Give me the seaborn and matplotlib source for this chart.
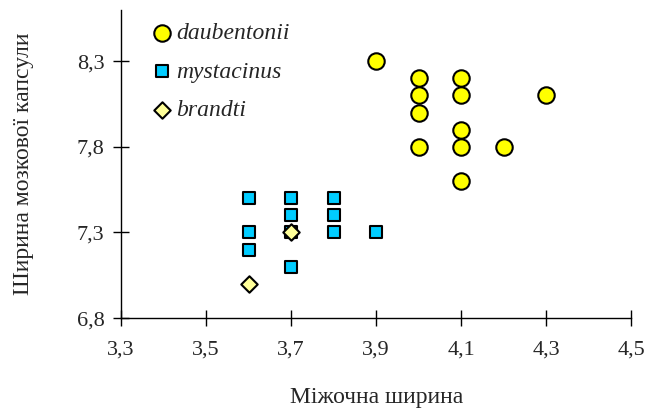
import matplotlib
matplotlib.use("Agg")
import matplotlib.pyplot as plt
import seaborn as sns
import pandas as pd
from matplotlib.ticker import FuncFormatter

# data
daub_x = [3.9, 4.0, 4.0, 4.0, 4.0, 4.1, 4.1, 4.1, 4.1, 4.1, 4.2, 4.3]
daub_y = [8.3, 8.2, 8.1, 8.0, 7.8, 8.2, 8.1, 7.9, 7.8, 7.6, 7.8, 8.1]
myst_x = [3.6, 3.6, 3.6, 3.7, 3.7, 3.7, 3.7, 3.8, 3.8, 3.8, 3.9]
myst_y = [7.5, 7.3, 7.2, 7.5, 7.4, 7.3, 7.1, 7.5, 7.4, 7.3, 7.3]
brandti_x = [3.7, 3.6]
brandti_y = [7.3, 7.0]

df = pd.concat([
    pd.DataFrame({'x': daub_x, 'y': daub_y, 'species': 'daubentonii'}),
    pd.DataFrame({'x': myst_x, 'y': myst_y, 'species': 'mystacinus'}),
    pd.DataFrame({'x': brandti_x, 'y': brandti_y, 'species': 'brandti'}),
])

sns.set_style("ticks")
plt.rcParams['font.family'] = ['Liberation Serif', 'DejaVu Serif']

colors = {'daubentonii': '#ffff00', 'mystacinus': '#00ccff', 'brandti': '#ffff99'}
markers = {'daubentonii': 'o', 'mystacinus': 's', 'brandti': 'D'}
sizes = {'daubentonii': 140, 'mystacinus': 65, 'brandti': 70}

fig = plt.figure(figsize=(6.48, 4.12), dpi=100)
ax = fig.add_axes([0.187, 0.228, 0.787, 0.748])

for sp in ['daubentonii', 'mystacinus', 'brandti']:
    sns.scatterplot(data=df[df.species == sp], x='x', y='y', color=colors[sp],
                    marker=markers[sp], s=sizes[sp], edgecolor='black',
                    linewidth=1.5, label=sp, ax=ax, zorder=3)

ax.set_xlim(3.3, 4.5)
ax.set_ylim(6.8, 8.6)
ax.set_xticks([3.3, 3.5, 3.7, 3.9, 4.1, 4.3, 4.5])
ax.set_yticks([6.8, 7.3, 7.8, 8.3])
fmt = FuncFormatter(lambda v, p: f"{v:.1f}".replace('.', ','))
ax.xaxis.set_major_formatter(fmt)
ax.yaxis.set_major_formatter(fmt)
ax.tick_params(labelsize=16, length=12, width=1, color='black', direction='inout')
ax.tick_params(axis='x', pad=10)
ax.tick_params(axis='y', pad=6)
for s in ['left', 'bottom']:
    ax.spines[s].set_color('black')
    ax.spines[s].set_linewidth(1)
sns.despine(ax=ax)

ax.set_xlabel("Міжочна ширина", fontsize=17, labelpad=20)
ax.set_ylabel("Ширина мозкової капсули", fontsize=17, labelpad=31)

leg = ax.legend(loc='upper left', bbox_to_anchor=(0.03, 1.005), frameon=False,
                fontsize=17, handletextpad=0.1, labelspacing=0.72,
                handlelength=1.0, borderaxespad=0.2)
for t in leg.get_texts():
    t.set_fontstyle('italic')

fig.savefig("out.png", dpi=100)
